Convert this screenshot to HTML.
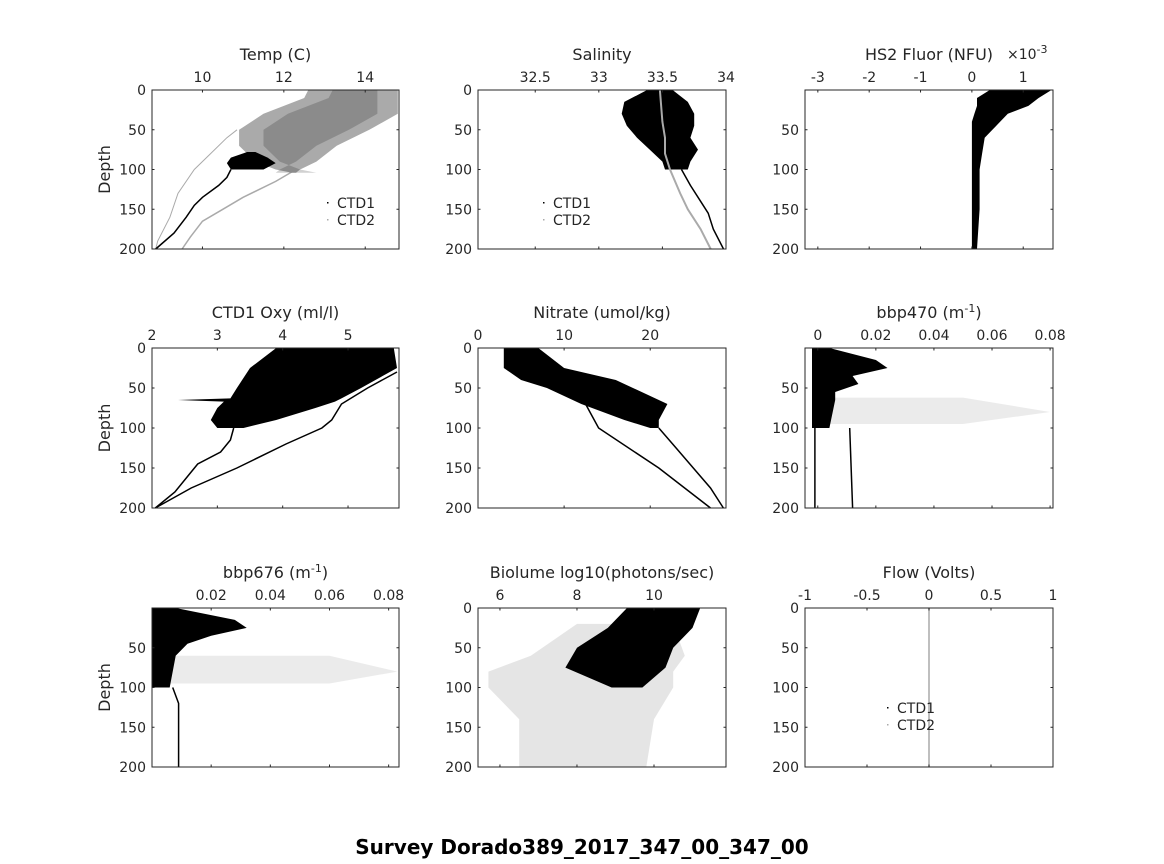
<!DOCTYPE html>
<html><head><meta charset="utf-8"><style>
body{margin:0;background:#fff}
svg{display:block}
text{font-family:"DejaVu Sans","Liberation Sans",sans-serif;fill:#262626}
</style></head><body>
<svg id="fig" width="1164" height="864" viewBox="0 0 1164 864">
<rect x="0" y="0" width="1164" height="864" fill="#fff"/>
<text x="582" y="854" text-anchor="middle" font-size="20" font-weight="bold" style="fill:#000">Survey Dorado389_2017_347_00_347_00</text>
</svg>
<script>
// ---- data (depth in m, values in axis units) ----
const depthTicks=[0,50,100,150,200];
const tempTicks=[10,12,14];
const salTicks=[32.5,33,33.5,34];
const fluorTicks=[-3,-2,-1,0,1];
const oxyTicks=[2,3,4,5];
const nitTicks=[0,10,20];
const b470Ticks=[0,0.02,0.04,0.06,0.08];
const b676Ticks=[0.02,0.04,0.06,0.08];
const bioTicks=[6,8,10];
const flowTicks=[-1,-0.5,0,0.5,1];

// Temp
const tempCloudDepth=[0,10,30,50,70,90,100,104];
const tempCloudLo=[12.6,12.5,11.5,10.9,10.9,11.3,11.8,12.2];
const tempCloudHi=[14.8,14.8,14.8,14.1,13.3,12.8,12.4,12.3];
const tempBlobDepth=[78,85,92,100,100];
const tempBlobLo=[11.1,10.7,10.6,10.7,11.3];
const tempBlobHi=[11.3,11.6,11.8,11.5,11.3];
const tempCtd1Depth=[100,110,120,135,145,160,180,200];
const tempCtd1=[10.7,10.6,10.4,10.0,9.8,9.6,9.3,8.85];
const tempGrayADepth=[50,60,80,100,130,160,190,200];
const tempGrayA=[10.85,10.6,10.2,9.8,9.4,9.2,8.9,8.85];
const tempGrayBDepth=[100,115,135,150,165,185,200];
const tempGrayB=[12.3,11.8,11.0,10.5,10.0,9.7,9.5];

// Salinity
const salCloudDepth=[0,15,30,45,60,75,90,100];
const salCloudLo=[33.38,33.2,33.18,33.22,33.3,33.4,33.5,33.52];
const salCloudHi=[33.58,33.7,33.75,33.75,33.72,33.78,33.72,33.7];
const salGrayDepth=[0,40,60,80,100,130,150,175,200];
const salGray=[33.48,33.5,33.52,33.52,33.56,33.64,33.7,33.8,33.88];
const salCtd1Depth=[100,120,140,155,175,200];
const salCtd1=[33.65,33.72,33.8,33.86,33.9,33.98];

// Fluor (x1e-3)
const fluorDepth=[0,10,20,30,40,50,60,80,100,150,200];
const fluorLo=[0.35,0.1,0.1,0.05,0.0,0.0,0.0,0.0,0.0,0.0,0.0];
const fluorHi=[1.55,1.3,1.1,0.7,0.55,0.4,0.25,0.2,0.15,0.15,0.1];

// Oxygen
const oxyCloudDepth=[0,25,50,63,65,67,75,90,100];
const oxyCloudLo=[3.9,3.5,3.3,3.2,2.4,3.1,3.0,2.9,3.0];
const oxyCloudHi=[5.7,5.75,5.2,4.9,4.85,4.8,4.5,3.9,3.4];
const oxyLineADepth=[100,115,130,145,160,180,200];
const oxyLineA=[3.25,3.2,3.05,2.7,2.55,2.35,2.05];
const oxyLineBDepth=[30,50,70,90,100,120,150,175,200];
const oxyLineB=[5.75,5.3,4.9,4.75,4.6,4.05,3.3,2.6,2.05];

// Nitrate
const nitCloudDepth=[0,25,40,50,70,90,100];
const nitCloudLo=[3,3,5,8,12,17,20];
const nitCloudHi=[7,10,16,18,22,21,21];
const nitLineADepth=[100,125,150,175,200];
const nitLineA=[21,23,25,27,28.5];
const nitLineBDepth=[60,80,100,150,200];
const nitLineB=[12,13,14,21,27];

// bbp470
const b470CloudDepth=[0,15,25,35,45,55,65,100];
const b470CloudLo=[-0.002,-0.002,-0.002,-0.002,-0.002,-0.002,-0.002,-0.002];
const b470CloudHi=[0.004,0.02,0.024,0.012,0.014,0.006,0.006,0.004];
const b470SparseDepth=[62,80,95];
const b470SparseHi=[0.05,0.08,0.05];
const b470LineDepth=[100,200];
const b470LineA=[-0.001,-0.001];
const b470LineB=[0.011,0.012];

// bbp676
const b676CloudDepth=[0,15,25,35,45,60,100];
const b676CloudLo=[0.0,0.0,0.0,0.0,0.0,0.0,0.0];
const b676CloudHi=[0.008,0.028,0.032,0.02,0.012,0.008,0.006];
const b676SparseDepth=[60,80,95];
const b676SparseHi=[0.06,0.083,0.06];
const b676LineDepth=[100,120,150,200];
const b676Line=[0.007,0.009,0.009,0.009];

// Biolume
const bioCloudDepth=[0,25,50,75,100];
const bioCloudLo=[9.3,8.8,8.0,7.7,8.9];
const bioCloudHi=[11.2,11.0,10.5,10.3,9.7];
const bioHaloDepth=[20,60,80,100,140,200];
const bioHaloLo=[8.0,6.8,5.7,5.7,6.5,6.5];
const bioHaloHi=[10.5,10.8,10.5,10.5,10.0,9.8];

// Flow
const flowDepth=[0,200];
const flowVal=[0,0];

// ---- layout ----
const svg=document.getElementById('fig');
const NS='http://www.w3.org/2000/svg';
const cols=[[152,399],[478,726],[805,1053]];
const rows=[[90,249],[348,508],[608,767]];

function mk(tag,attrs,parent){const e=document.createElementNS(NS,tag);for(const k in attrs)e.setAttribute(k,attrs[k]);(parent||svg).appendChild(e);return e;}

function panel(name,c,r,xmin,xmax,xticks,title,opts){
  const [x0,x1]=cols[c],[y0,y1]=rows[r];
  const g=mk('g',{});
  
  
  const X=v=>x0+(v-xmin)/(xmax-xmin)*(x1-x0);
  const Y=d=>y0+d/200*(y1-y0);
  const plot=mk('g',{},g);
  
  
  const api={X,Y,plot};
  opts.draw(api);
  const fr=mk('rect',{x:x0,y:y0,width:x1-x0,height:y1-y0,fill:'none',stroke:'#262626','stroke-width':1},g);
  
  
  xticks.forEach(t=>{
    const x=X(t);
    mk('line',{x1:x,x2:x,y1:y0,y2:y0+2.5,stroke:'#262626'},g);
    mk('line',{x1:x,x2:x,y1:y1,y2:y1-2.5,stroke:'#262626'},g);
    const tl=mk('text',{x:x,y:y0-8,'text-anchor':'middle','font-size':14},g);
    tl.textContent=opts.fmt?opts.fmt(t):String(t);
    
    
  });
  depthTicks.forEach(d=>{
    const y=Y(d);
    mk('line',{x1:x0,x2:x0+2.5,y1:y,y2:y,stroke:'#262626'},g);
    mk('line',{x1:x1,x2:x1-2.5,y1:y,y2:y,stroke:'#262626'},g);
    if(d===0&&opts.noZero)return;
    const tl=mk('text',{x:x0-6,y:y+5,'text-anchor':'end','font-size':14},g);
    tl.textContent=String(d);
    
    
  });
  const tt=mk('text',{x:(x0+x1)/2,y:y0-30,'text-anchor':'middle','font-size':16},g);
  tt.innerHTML=title;
  
  
  if(c===0){
    const yl=mk('text',{x:0,y:0,'text-anchor':'middle','font-size':16,transform:`translate(${x0-42},${(y0+y1)/2}) rotate(-90)`},g);
    yl.textContent='Depth';
    
    
  }
  if(opts.legend){
    const [lx,ly]=opts.legend;
    const lg=mk('g',{},g);
    
    
    mk('rect',{x:lx-10,y:ly-1,width:1.5,height:1.5,fill:'#000'},lg);
    mk('rect',{x:lx-10,y:ly+16,width:1.5,height:1.5,fill:'#aaa'},lg);
    const a=mk('text',{x:lx,y:ly+5,'font-size':14},lg);a.textContent='CTD1';
    
    
    const b=mk('text',{x:lx,y:ly+22,'font-size':14},lg);b.textContent='CTD2';
    
    
  }
  return api;
}

function envelope(api,depth,lo,hi,fill,name,extra){
  const pts=[];
  depth.forEach((d,i)=>pts.push(api.X(lo[i]).toFixed(1)+','+api.Y(d).toFixed(1)));
  for(let i=depth.length-1;i>=0;i--)pts.push(api.X(hi[i]).toFixed(1)+','+api.Y(depth[i]).toFixed(1));
  const p=mk('polygon',Object.assign({points:pts.join(' '),fill:fill},extra||{}),api.plot);
  
  
  return p;
}
function line(api,depth,vals,stroke,w,name){
  const pts=depth.map((d,i)=>api.X(vals[i]).toFixed(1)+','+api.Y(d).toFixed(1)).join(' ');
  const p=mk('polyline',{points:pts,fill:'none',stroke:stroke,'stroke-width':w},api.plot);
  
  
  return p;
}

panel('temp',0,0,8.76,14.83,tempTicks,'Temp (C)',{legend:[337,203],draw:a=>{
  line(a,tempGrayADepth,tempGrayA,'#aaa',1,'temp-ctd2-line-a');
  line(a,tempGrayBDepth,tempGrayB,'#aaa',1.5,'temp-ctd2-line-b');
  envelope(a,tempCloudDepth,tempCloudLo,tempCloudHi,'#aaa','temp-ctd2-cloud');
  envelope(a,tempCloudDepth,tempCloudLo.map(v=>v+0.6),tempCloudHi.map(v=>v-0.5),'#000','temp-ctd1-cloud',{opacity:0.18});
  envelope(a,tempBlobDepth,tempBlobLo,tempBlobHi,'#000','temp-ctd1-blob');
  line(a,tempCtd1Depth,tempCtd1,'#000',1.5,'temp-ctd1-line');
}});
panel('salinity',1,0,32.05,34.0,salTicks,'Salinity',{legend:[553,203],draw:a=>{
  envelope(a,salCloudDepth,salCloudLo,salCloudHi,'#000','salinity-ctd1-cloud');
  line(a,salCtd1Depth,salCtd1,'#000',1.5,'salinity-ctd1-line');
  line(a,salGrayDepth,salGray,'#aaa',2,'salinity-ctd2-line');
}});
panel('fluor',2,0,-3.25,1.58,fluorTicks,'HS2 Fluor (NFU)',{noZero:true,draw:a=>{
  envelope(a,fluorDepth,fluorLo,fluorHi,'#000','fluor-cloud');
}});
{const e=mk('text',{x:1007,y:59,'font-size':14});e.innerHTML='\u00d710<tspan dy="-6" font-size="11">-3</tspan>';

}
panel('oxygen',0,1,2.0,5.78,oxyTicks,'CTD1 Oxy (ml/l)',{draw:a=>{
  envelope(a,oxyCloudDepth,oxyCloudLo,oxyCloudHi,'#000','oxygen-cloud');
  line(a,oxyLineADepth,oxyLineA,'#000',1.5,'oxygen-line-a');
  line(a,oxyLineBDepth,oxyLineB,'#000',1.5,'oxygen-line-b');
}});
panel('nitrate',1,1,0,28.8,nitTicks,'Nitrate (umol/kg)',{draw:a=>{
  envelope(a,nitCloudDepth,nitCloudLo,nitCloudHi,'#000','nitrate-cloud');
  line(a,nitLineADepth,nitLineA,'#000',1.5,'nitrate-line-a');
  line(a,nitLineBDepth,nitLineB,'#000',1.5,'nitrate-line-b');
}});
panel('bbp470',2,1,-0.0044,0.081,b470Ticks,'bbp470 (m<tspan dy="-6" font-size="11">-1</tspan><tspan dy="6">)</tspan>',{noZero:true,draw:a=>{
  envelope(a,b470SparseDepth,b470SparseDepth.map(()=>0),b470SparseHi,'#000','bbp470-sparse',{opacity:0.08});
  envelope(a,b470CloudDepth,b470CloudLo,b470CloudHi,'#000','bbp470-cloud');
  line(a,b470LineDepth,b470LineA,'#000',1.5,'bbp470-line-a');
  line(a,b470LineDepth,b470LineB,'#000',1.5,'bbp470-line-b');
}});
panel('bbp676',0,2,0,0.0835,b676Ticks,'bbp676 (m<tspan dy="-6" font-size="11">-1</tspan><tspan dy="6">)</tspan>',{noZero:true,draw:a=>{
  envelope(a,b676SparseDepth,b676SparseDepth.map(()=>0),b676SparseHi,'#000','bbp676-sparse',{opacity:0.08});
  envelope(a,b676CloudDepth,b676CloudLo,b676CloudHi,'#000','bbp676-cloud');
  line(a,b676LineDepth,b676Line,'#000',1.5,'bbp676-line');
}});
panel('biolume',1,2,5.43,11.87,bioTicks,'Biolume log10(photons/sec)',{draw:a=>{
  envelope(a,bioHaloDepth,bioHaloLo,bioHaloHi,'#000','biolume-sparse',{opacity:0.1});
  envelope(a,bioCloudDepth,bioCloudLo,bioCloudHi,'#000','biolume-cloud');
}});
panel('flow',2,2,-1,1,flowTicks,'Flow (Volts)',{legend:[897,708],draw:a=>{
  line(a,flowDepth,flowVal,'#aaa',1.5,'flow-line');
}});
</script>
</body></html>
